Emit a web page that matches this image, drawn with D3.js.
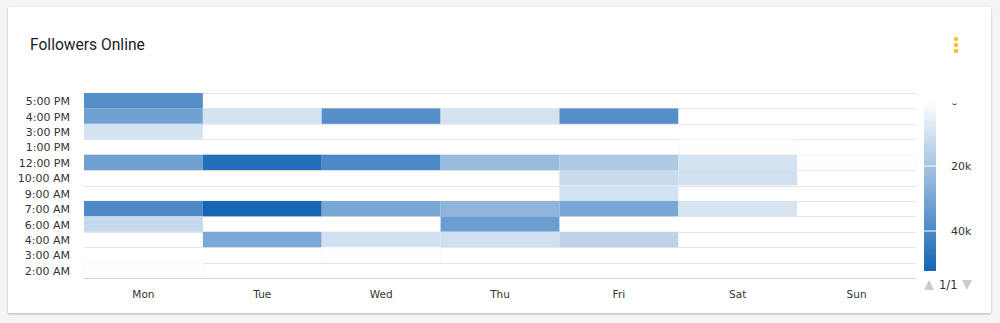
<!DOCTYPE html>
<html>
<head>
<meta charset="utf-8">
<script src="https://cdn.jsdelivr.net/npm/d3@7/dist/d3.min.js"></script>
<style>
  html, body { margin: 0; padding: 0; background: #f5f5f5; }
  svg { display: block; }
</style>
</head>
<body>
<svg id="chart" width="1000" height="323"></svg>
<script>
// ---- data ----
const days = ["Mon", "Tue", "Wed", "Thu", "Fri", "Sat", "Sun"];
const hours = ["5:00 PM", "4:00 PM", "3:00 PM", "1:00 PM", "12:00 PM", "10:00 AM", "9:00 AM",
               "7:00 AM", "6:00 AM", "4:00 AM", "3:00 AM", "2:00 AM"];
// values per day, in the order of `hours` (null = no data)
const mon = [38000, 32000, 9600, null, 32000, null, null, 40000, 13000, null, null, 300];
const tue = [null, 9600, null, null, 49000, null, null, 52000, null, 29500, null, null];
const wed = [null, 38000, null, null, 40000, null, null, 30000, null, 10500, 300, null];
const thu = [null, 9600, null, null, 23000, null, null, 25000, 33000, 10500, null, null];
const fri = [null, 38000, null, null, 18000, 12000, 9600, 30000, null, 15000, null, null];
const sat = [null, null, null, 200, 9600, 10500, null, 9000, null, null, null, null];
const sun = [null, null, null, null, 200, null, null, null, null, null, null, null];
const legendTicks = [0, 20000, 40000];
const legendMax = 52300;

const series = [mon, tue, wed, thu, fri, sat, sun];
const cells = [];
series.forEach((arr, di) => arr.forEach((v, hi) => {
  if (v !== null) cells.push({ day: days[di], hour: hours[hi], value: v });
}));

const svg = d3.select("#chart");

// card
const defs = svg.append("defs");
const f = defs.append("filter").attr("id", "sh").attr("x", "-5%").attr("y", "-5%").attr("width", "110%").attr("height", "115%");
f.append("feDropShadow").attr("dx", 0).attr("dy", 1).attr("stdDeviation", 1.2).attr("flood-color", "#000").attr("flood-opacity", 0.28);
svg.append("rect").attr("x", 8).attr("y", 7).attr("width", 983).attr("height", 306)
  .attr("fill", "#fff").attr("filter", "url(#sh)");

// title
svg.append("text").attr("x", 30).attr("y", 50)
  .attr("font-family", "Roboto, 'Noto Sans', sans-serif").attr("font-size", 15.6)
  .attr("fill", "#212121").text("Followers Online");

// kebab
[39, 45, 51].forEach(cy => svg.append("circle").attr("cx", 956).attr("cy", cy).attr("r", 2.2).attr("fill", "#fbc02d"));

// scales
const x = d3.scaleBand().domain(days).range([84, 916]);
const y = d3.scaleBand().domain(hours).range([93, 278]);
const color = d3.scaleLinear().domain([0, legendMax]).range(["#ffffff", "#1565b4"]).interpolate(d3.interpolateRgb).clamp(true);

// gridlines (category boundaries)
const g = svg.append("g");
const bounds = hours.map(h => y(h));
g.selectAll("line.grid").data(bounds).enter().append("line")
  .attr("x1", 84).attr("x2", 916).attr("y1", d => Math.round(d) + 0.5).attr("y2", d => Math.round(d) + 0.5)
  .attr("stroke", "#e6e6e6").attr("stroke-width", 1);

// cells
g.selectAll("rect.cell").data(cells).enter().append("rect")
  .attr("x", d => x(d.day)).attr("y", d => y(d.hour))
  .attr("width", x.bandwidth()).attr("height", y.bandwidth())
  .attr("fill", d => color(d.value))
  .attr("stroke", d => d.value < 2000 ? "#eef1f6" : "none")
  .attr("stroke-dasharray", "1,1");

// x axis line
svg.append("line").attr("x1", 84).attr("x2", 916).attr("y1", 278.5).attr("y2", 278.5).attr("stroke", "#ccd6eb");

const labelFont = "'DejaVu Sans', 'Lucida Grande', sans-serif";
// y axis
const yAxis = svg.append("g").attr("transform", "translate(70,1)")
  .call(d3.axisLeft(y).tickSize(0).tickPadding(0));
yAxis.select(".domain").remove();
yAxis.selectAll("text").attr("font-family", labelFont).attr("font-size", 11).attr("fill", "#333");

// x axis
const xAxis = svg.append("g").attr("transform", "translate(0,291)")
  .call(d3.axisBottom(x).tickSize(0).tickPadding(0));
xAxis.select(".domain").remove();
xAxis.selectAll("text").attr("font-family", labelFont).attr("font-size", 10.5).attr("fill", "#333");

// legend
const ly = d3.scaleLinear().domain([0, legendMax]).range([101, 271]);
const grad = defs.append("linearGradient").attr("id", "lg").attr("x1", 0).attr("x2", 0).attr("y1", 0).attr("y2", 1);
grad.append("stop").attr("offset", "0%").attr("stop-color", color(0));
grad.append("stop").attr("offset", "100%").attr("stop-color", color(legendMax));
svg.append("rect").attr("x", 924).attr("y", 101).attr("width", 12).attr("height", 170).attr("fill", "url(#lg)");
svg.selectAll("line.lt").data(legendTicks.slice(1)).enter().append("line")
  .attr("x1", 924).attr("x2", 936).attr("y1", d => ly(d)).attr("y2", d => ly(d))
  .attr("stroke", "#fff").attr("stroke-width", 1);
defs.append("clipPath").attr("id", "lc").append("rect").attr("x", 940).attr("y", 103.5).attr("width", 60).attr("height", 200);
const fmt = d => d === 0 ? "0" : (d / 1000) + "k";
svg.append("g").attr("clip-path", "url(#lc)").selectAll("text").data(legendTicks).enter().append("text")
  .attr("x", 951).attr("y", d => ly(d)).attr("dy", "0.35em")
  .attr("font-family", labelFont).attr("font-size", 11).attr("fill", "#333").text(fmt);

// legend navigation
svg.append("path").attr("d", "M924,290 L929,280 L934,290 Z").attr("fill", "#ccc");
svg.append("text").attr("x", 939).attr("y", 289).attr("font-family", labelFont).attr("font-size", 11.5).attr("fill", "#333").text("1/1");
svg.append("path").attr("d", "M962,280 L972,280 L967,290 Z").attr("fill", "#ccc");
</script>
</body>
</html>
